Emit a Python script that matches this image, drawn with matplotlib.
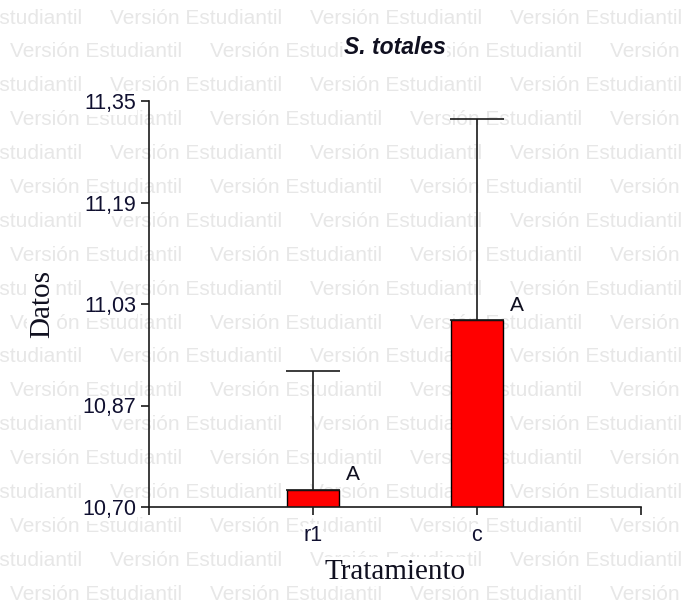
import matplotlib
matplotlib.use('Agg')
import matplotlib.pyplot as plt
import numpy as np

# datos
tratamientos = ['r1', 'c']
medias = [10.728, 11.000]
error_sup = [0.189, 0.321]
letras = ['A', 'A']
y_ticklabels = ['10,70', '10,87', '11,03', '11,19', '11,35']

plt.rcParams['font.family'] = ['Liberation Sans', 'DejaVu Sans']

W, H = 685, 607
fig = plt.figure(figsize=(W / 100, H / 100), dpi=100)
fig.patch.set_facecolor('white')

# marca de agua "Versión Estudiantil"
wm = 'Versión Estudiantil'
for r in range(18):
    yc = 18 + r * 33.9
    x0 = -90 if r % 2 == 0 else 10
    for k in range(5):
        fig.text((x0 + k * 200) / W, 1 - yc / H, wm, fontsize=15, color='#e7e7e7',
                 ha='left', va='center', zorder=-5)

ax = fig.add_axes([149 / W, 1 - 507 / H, 492 / W, 406 / H])
ax.set_facecolor('none')

x = np.arange(1, len(tratamientos) + 1)
ax.bar(x, medias, width=0.32, bottom=0, color='#ff0000', edgecolor='black',
       linewidth=1.0, zorder=2)
ax.errorbar(x, medias, yerr=[np.zeros(len(medias)), error_sup], fmt='none',
            ecolor='#1a1a1a', elinewidth=1.2, capsize=19.5, capthick=1.2, zorder=3)

for xi, m, l in zip(x, medias, letras):
    ax.annotate(l, (xi + 0.16, m), xytext=(4.5, 6.5), textcoords='offset points',
                ha='left', va='baseline', fontsize=15, color='#101020',
                bbox=dict(facecolor='white', edgecolor='none', pad=0.5))

ax.set_xlim(0, 3)
ax.set_ylim(10.70, 11.35)
ax.set_xticks([0, 1, 2, 3])
ax.set_xticklabels([''] + tratamientos + [''])
ax.set_yticks(np.linspace(10.70, 11.35, 5))
ax.set_yticklabels(y_ticklabels)

for s in ['top', 'right']:
    ax.spines[s].set_visible(False)
for s in ['left', 'bottom']:
    ax.spines[s].set_linewidth(1.2)
    ax.spines[s].set_color('#1a1a1a')

ax.tick_params(axis='both', length=6, width=1.2, color='#1a1a1a',
               labelsize=15.5, labelcolor='#101030')
ax.tick_params(axis='x', pad=7)
ax.tick_params(axis='y', pad=3)

for lbl in ax.get_xticklabels() + ax.get_yticklabels():
    lbl.set_bbox(dict(facecolor='white', edgecolor='none', pad=0.5))

ax.set_title('S. totales', fontsize=16.5, fontweight='bold', fontstyle='italic',
             pad=34, color='#101020',
             bbox=dict(facecolor='white', edgecolor='none', pad=1))
ax.set_xlabel('Tratamiento', family=['Liberation Serif', 'DejaVu Serif'],
              fontsize=21, labelpad=9, color='#101020',
              bbox=dict(facecolor='white', edgecolor='none', pad=1))
ax.set_ylabel('Datos', family=['Liberation Serif', 'DejaVu Serif'],
              fontsize=21, labelpad=20, color='#101020',
              bbox=dict(facecolor='white', edgecolor='none', pad=1))

fig.savefig('out.png', dpi=100, facecolor='white')
